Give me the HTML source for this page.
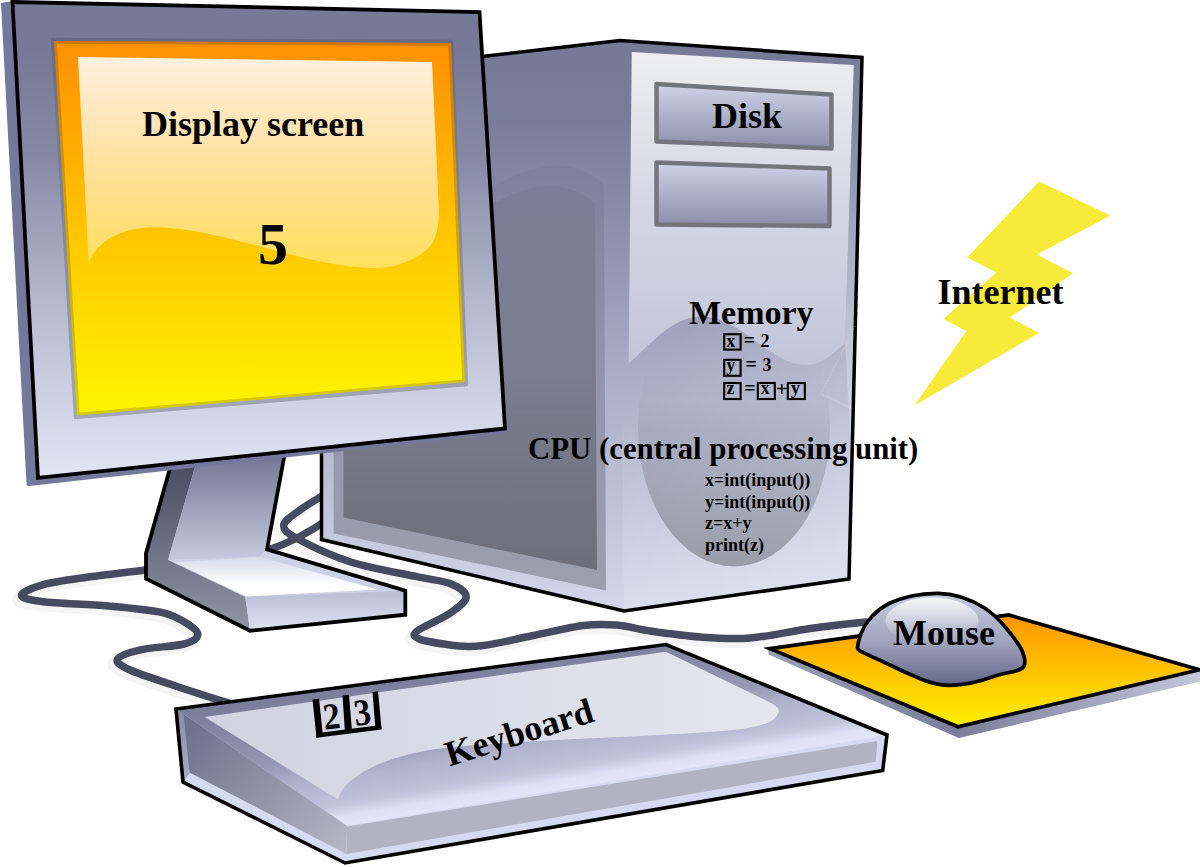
<!DOCTYPE html>
<html lang="en">
<head>
<meta charset="utf-8">
<title>Computer diagram</title>
<style>
html,body{margin:0;padding:0;background:#fff;}
body{width:1200px;height:867px;overflow:hidden;}
svg{display:block;}
text{font-family:"Liberation Serif","DejaVu Serif",serif;font-weight:bold;fill:#000;}
</style>
</head>
<body>
<svg width="1200" height="867" viewBox="0 0 1200 867">
<defs>
  <linearGradient id="gMonFace" x1="0" y1="50" x2="0" y2="475" gradientUnits="userSpaceOnUse">
    <stop offset="0" stop-color="#767a96"/><stop offset="0.25" stop-color="#8589a4"/><stop offset="0.6" stop-color="#b6bace"/><stop offset="1" stop-color="#e0e4f3"/>
  </linearGradient>
  <linearGradient id="gBezel" x1="0" y1="38" x2="0" y2="420" gradientUnits="userSpaceOnUse">
    <stop offset="0" stop-color="#666a84"/><stop offset="1" stop-color="#a3a7b6"/>
  </linearGradient>
  <linearGradient id="gScreen" x1="0" y1="41" x2="0" y2="415" gradientUnits="userSpaceOnUse">
    <stop offset="0" stop-color="#ff8f00"/><stop offset="0.5" stop-color="#ffc400"/><stop offset="1" stop-color="#fff500"/>
  </linearGradient>
  <linearGradient id="gGloss" x1="0" y1="57" x2="0" y2="270" gradientUnits="userSpaceOnUse">
    <stop offset="0" stop-color="#fff" stop-opacity="0.88"/><stop offset="1" stop-color="#fff" stop-opacity="0.36"/>
  </linearGradient>
  <linearGradient id="gTowerSide" x1="0" y1="50" x2="0" y2="610" gradientUnits="userSpaceOnUse">
    <stop offset="0" stop-color="#767a96"/><stop offset="0.12" stop-color="#787c98"/><stop offset="0.36" stop-color="#9094ae"/><stop offset="0.62" stop-color="#aeb2ca"/><stop offset="0.8" stop-color="#bec2d8"/><stop offset="0.9" stop-color="#c8ccdf"/><stop offset="1" stop-color="#d2d6e8"/>
  </linearGradient>
  <linearGradient id="gBevelR" x1="0" y1="60" x2="0" y2="420" gradientUnits="userSpaceOnUse">
    <stop offset="0" stop-color="#fff" stop-opacity="0.03"/><stop offset="1" stop-color="#fff" stop-opacity="0.28"/>
  </linearGradient>
  <linearGradient id="gFrontLite" x1="622" y1="400" x2="850" y2="610" gradientUnits="userSpaceOnUse">
    <stop offset="0" stop-color="#fff" stop-opacity="0"/><stop offset="1" stop-color="#fff" stop-opacity="0.36"/>
  </linearGradient>
  <linearGradient id="gTowerFront" x1="0" y1="40" x2="0" y2="610" gradientUnits="userSpaceOnUse">
    <stop offset="0" stop-color="#7a7e9a"/><stop offset="0.5" stop-color="#a8acc6"/><stop offset="1" stop-color="#e0e4f3"/>
  </linearGradient>
  <linearGradient id="gPanel" x1="0" y1="52" x2="0" y2="365" gradientUnits="userSpaceOnUse">
    <stop offset="0" stop-color="#eeeef1"/><stop offset="0.5" stop-color="#d3d6e2"/><stop offset="1" stop-color="#c2c6da"/>
  </linearGradient>
  <linearGradient id="gShade1" x1="0" y1="165" x2="0" y2="590" gradientUnits="userSpaceOnUse">
    <stop offset="0" stop-color="#000" stop-opacity="0.03"/><stop offset="1" stop-color="#000" stop-opacity="0.25"/>
  </linearGradient>
  <linearGradient id="gShade2" x1="0" y1="186" x2="0" y2="570" gradientUnits="userSpaceOnUse">
    <stop offset="0" stop-color="#000" stop-opacity="0.04"/><stop offset="1" stop-color="#000" stop-opacity="0.30"/>
  </linearGradient>
  <linearGradient id="gEll" x1="0" y1="365" x2="0" y2="567" gradientUnits="userSpaceOnUse">
    <stop offset="0" stop-color="#000" stop-opacity="0"/><stop offset="0.173" stop-color="#000" stop-opacity="0.025"/><stop offset="0.32" stop-color="#000" stop-opacity="0.085"/><stop offset="0.57" stop-color="#000" stop-opacity="0.15"/><stop offset="1" stop-color="#000" stop-opacity="0.28"/>
  </linearGradient>
  <linearGradient id="gBay" x1="0" y1="0" x2="0" y2="1">
    <stop offset="0" stop-color="#cfd3e8"/><stop offset="1" stop-color="#8a8ea8"/>
  </linearGradient>
  <linearGradient id="gStandSide" x1="0" y1="470" x2="0" y2="630" gradientUnits="userSpaceOnUse">
    <stop offset="0" stop-color="#4c5066"/><stop offset="1" stop-color="#9094a4"/>
  </linearGradient>
  <linearGradient id="gStandUp" x1="0" y1="460" x2="0" y2="560" gradientUnits="userSpaceOnUse">
    <stop offset="0" stop-color="#767a96"/><stop offset="1" stop-color="#c6cade"/>
  </linearGradient>
  <linearGradient id="gStandTop" x1="0" y1="556" x2="0" y2="598" gradientUnits="userSpaceOnUse">
    <stop offset="0" stop-color="#d6daea"/><stop offset="0.7" stop-color="#ffffff"/>
  </linearGradient>
  <linearGradient id="gStandFront" x1="0" y1="595" x2="0" y2="630" gradientUnits="userSpaceOnUse">
    <stop offset="0" stop-color="#bcc0d6"/><stop offset="1" stop-color="#dfe3f3"/>
  </linearGradient>
  <linearGradient id="gKbSide" x1="185" y1="716" x2="347" y2="845" gradientUnits="userSpaceOnUse">
    <stop offset="0" stop-color="#6a6e8a"/><stop offset="0.5" stop-color="#8e92a6"/><stop offset="1" stop-color="#b2b6c4"/>
  </linearGradient>
  <linearGradient id="gKbTop" x1="345" y1="824" x2="322" y2="686" gradientUnits="userSpaceOnUse">
    <stop offset="0" stop-color="#e1e5f7"/><stop offset="0.057" stop-color="#dde1f4"/><stop offset="0.13" stop-color="#c4c8de"/><stop offset="0.19" stop-color="#babed6"/><stop offset="0.33" stop-color="#b0b4cc"/><stop offset="0.5" stop-color="#9498b2"/><stop offset="0.95" stop-color="#7a7e9a"/>
  </linearGradient>
  <linearGradient id="gKbRim" x1="0" y1="710" x2="0" y2="782" gradientUnits="userSpaceOnUse">
    <stop offset="0" stop-color="#868aa6"/><stop offset="1" stop-color="#a8acc4"/>
  </linearGradient>
  <linearGradient id="gKbPanel" x1="200" y1="0" x2="770" y2="0" gradientUnits="userSpaceOnUse">
    <stop offset="0" stop-color="#d0d3e0"/><stop offset="1" stop-color="#e4e6ee"/>
  </linearGradient>
  <linearGradient id="gPad" x1="0" y1="615" x2="0" y2="727" gradientUnits="userSpaceOnUse">
    <stop offset="0" stop-color="#ff9600"/><stop offset="1" stop-color="#fff000"/>
  </linearGradient>
  <linearGradient id="gMouse" x1="0" y1="593" x2="0" y2="686" gradientUnits="userSpaceOnUse">
    <stop offset="0" stop-color="#c8ccde"/><stop offset="0.5" stop-color="#a2a6be"/><stop offset="1" stop-color="#62668a"/>
  </linearGradient>
  <linearGradient id="gMouseHi" x1="0" y1="597" x2="0" y2="644" gradientUnits="userSpaceOnUse">
    <stop offset="0" stop-color="#fff" stop-opacity="0.85"/><stop offset="0.75" stop-color="#fff" stop-opacity="0.12"/><stop offset="1" stop-color="#fff" stop-opacity="0.05"/>
  </linearGradient>
  <linearGradient id="gPadSide" x1="766" y1="0" x2="1200" y2="0" gradientUnits="userSpaceOnUse">
    <stop offset="0" stop-color="#9a9eb6"/><stop offset="0.44" stop-color="#7a7e98"/><stop offset="1" stop-color="#c2c6da"/>
  </linearGradient>
  <clipPath id="cScreen"><path d="M54,41 L451,43 L465,382 L77,415.5 Z"/></clipPath>
  <clipPath id="cFront"><path d="M620,40.5 L862,57.5 L849,579 L624,611 Z"/></clipPath>
</defs>
<rect width="1200" height="867" fill="#fff"/>
<g fill="none" stroke-linecap="round" stroke-linejoin="round">
  <g stroke="#000" stroke-opacity="0.045" stroke-width="11" transform="translate(-4,4)">
    <path d="M150.0,569.5 C139.4,570.8 104.5,574.8 86.7,577.3 C68.9,579.8 54.2,581.6 43.3,584.6 C32.4,587.6 21.5,592.4 21.5,595.3 C21.5,598.2 28.8,600.0 43.3,601.8 C57.8,603.6 88.4,604.2 108.3,606.0 C128.2,607.8 149.1,609.5 162.5,612.6 C175.9,615.7 182.6,620.7 188.5,624.5 C194.4,628.3 198.5,632.0 197.8,635.3 C197.1,638.5 193.7,641.6 184.2,644.0 C174.7,646.4 151.9,647.3 140.8,649.8 C129.7,652.3 119.3,655.8 117.5,659.2 C115.7,662.6 120.7,665.7 130.0,670.0 C139.3,674.3 158.9,680.3 173.3,685.2 C187.8,690.1 205.6,695.8 216.7,699.3 C227.8,702.8 236.1,704.9 240.0,706.0"/>
    <path d="M335.0,489.0 C332.7,490.3 326.8,493.2 321.0,496.7 C315.2,500.2 306.2,505.3 300.0,510.0 C293.8,514.7 284.4,520.3 283.8,525.0 C283.2,529.7 285.7,532.2 296.7,538.3 C307.7,544.4 330.0,555.3 350.0,561.7 C370.0,568.1 400.0,573.1 416.7,576.7 C433.4,580.4 441.8,580.3 450.0,583.6 C458.2,586.9 466.2,591.8 466.2,596.7 C466.2,601.7 458.7,606.9 450.0,613.3 C441.3,619.7 414.0,629.7 414.0,635.0 C414.0,640.3 438.4,643.2 450.0,645.0 C461.6,646.8 469.4,647.1 483.3,645.5 C497.2,643.9 516.6,638.8 533.3,635.5 C550.0,632.2 569.4,627.2 583.3,625.5 C597.2,623.8 605.6,624.1 616.7,625.0 C627.8,625.9 636.1,629.0 650.0,631.0 C663.9,633.0 683.3,635.8 700.0,637.0 C716.7,638.2 731.7,639.4 750.0,638.0 C768.3,636.6 790.7,631.2 810.0,628.5 C829.3,625.8 856.7,623.1 866.0,622.0"/>
  </g>
  <g stroke="#474b60" stroke-width="7.5">
    <path d="M150.0,569.5 C139.4,570.8 104.5,574.8 86.7,577.3 C68.9,579.8 54.2,581.6 43.3,584.6 C32.4,587.6 21.5,592.4 21.5,595.3 C21.5,598.2 28.8,600.0 43.3,601.8 C57.8,603.6 88.4,604.2 108.3,606.0 C128.2,607.8 149.1,609.5 162.5,612.6 C175.9,615.7 182.6,620.7 188.5,624.5 C194.4,628.3 198.5,632.0 197.8,635.3 C197.1,638.5 193.7,641.6 184.2,644.0 C174.7,646.4 151.9,647.3 140.8,649.8 C129.7,652.3 119.3,655.8 117.5,659.2 C115.7,662.6 120.7,665.7 130.0,670.0 C139.3,674.3 158.9,680.3 173.3,685.2 C187.8,690.1 205.6,695.8 216.7,699.3 C227.8,702.8 236.1,704.9 240.0,706.0"/>
    <path d="M268,550 C290,543 310,532 330,518"/>
    <path d="M335.0,489.0 C332.7,490.3 326.8,493.2 321.0,496.7 C315.2,500.2 306.2,505.3 300.0,510.0 C293.8,514.7 284.4,520.3 283.8,525.0 C283.2,529.7 285.7,532.2 296.7,538.3 C307.7,544.4 330.0,555.3 350.0,561.7 C370.0,568.1 400.0,573.1 416.7,576.7 C433.4,580.4 441.8,580.3 450.0,583.6 C458.2,586.9 466.2,591.8 466.2,596.7 C466.2,601.7 458.7,606.9 450.0,613.3 C441.3,619.7 414.0,629.7 414.0,635.0 C414.0,640.3 438.4,643.2 450.0,645.0 C461.6,646.8 469.4,647.1 483.3,645.5 C497.2,643.9 516.6,638.8 533.3,635.5 C550.0,632.2 569.4,627.2 583.3,625.5 C597.2,623.8 605.6,624.1 616.7,625.0 C627.8,625.9 636.1,629.0 650.0,631.0 C663.9,633.0 683.3,635.8 700.0,637.0 C716.7,638.2 731.7,639.4 750.0,638.0 C768.3,636.6 790.7,631.2 810.0,628.5 C829.3,625.8 856.7,623.1 866.0,622.0"/>
  </g>
</g>
<g stroke-linejoin="miter">
  <path d="M321.5,75 L620,40.5 L862,57.5 L849,579 L624,611 L321.5,539.5 Z" fill="url(#gTowerSide)"/>
  <path d="M333.6,533.4 L606,590.4 L603.8,184.5 C590,170 572,165.5 557,165.7 C535,166 512,175 494.7,186 L333.6,200 Z" fill="url(#gShade1)"/>
  <path d="M343.5,517.5 L597,570 L594.8,203 C580,191 565,186 549.5,186 C530,186 512,194 495,203 L343.5,215 Z" fill="url(#gShade2)"/>
    <path d="M620,40.5 L862,57.5 L849,579 L624,611 Z" fill="url(#gFrontLite)"/>
  <path d="M853.75,65 L862,57.5 L852,460 L845,343 Z" fill="url(#gBevelR)"/>
  <ellipse cx="734" cy="428" rx="96" ry="138.5" fill="url(#gEll)" clip-path="url(#cFront)"/>
  <path d="M631.75,52 L853.75,65 L845,343 C835,352 822,366 803,365 C770,363 740,316 700,316.5 C672,317 650,345 628.6,363.5 Z" fill="url(#gPanel)"/>
  <path d="M321.5,75 L620,40.5 L862,57.5 L849,579 L624,611 L321.5,539.5 Z" fill="none" stroke="#000" stroke-width="3.5"/>
  <path d="M855,326 L821,394 L853,409" fill="none" stroke="#fff" stroke-opacity="0.45" stroke-width="0.7" stroke-dasharray="1.5 1.5"/>
  <g stroke="#73757d" stroke-width="4.4" stroke-linejoin="round" fill="url(#gBay)">
    <path d="M656.5,84 L831.5,94.5 L831.5,148.5 L656.5,141.5 Z"/>
    <path d="M656.5,162.5 L829.5,168.5 L829.5,226 L656.5,224.5 Z"/>
  </g>
</g>
<g stroke-linejoin="miter">
  <path d="M172.7,458.7 L146,553.3 L146,578.7 L250,630.7 L405.3,614.7 L405.3,590.7 L267,549.3 L286.2,446 Z" fill="#cdd1e4"/>
  <path d="M172.7,458.7 L198.2,456 L168,560 L245.3,597 L250,630.7 L146,578.7 L146,553.3 Z" fill="url(#gStandSide)"/>
  <path d="M198.2,456 L286.2,446 L267,549.3 L259,556.5 L168,560 Z" fill="url(#gStandUp)"/>
  <path d="M174.5,562.3 L260,557 L377.5,589.5 L246.5,596.5 Z" fill="url(#gStandTop)"/>
  <path d="M245.3,597 L405.3,590.7 L405.3,614.7 L250,630.7 Z" fill="url(#gStandFront)"/>
  <path d="M172.7,458.7 L146,553.3 L146,578.7 L250,630.7 L405.3,614.7 L405.3,590.7 L267,549.3 L286.2,446" fill="none" stroke="#000" stroke-width="3.8"/>
</g>
<g>
  <path d="M1,3 L12,1 L38,478 L506,428 L507.5,433 L29,486 Q26.5,486 26.5,483.5 Z" fill="#74789a"/>
  <path d="M12.5,2 L479.5,12 L505,428.5 L38,478 Z" fill="url(#gMonFace)" stroke="#000" stroke-width="3.8" stroke-linejoin="miter"/>
  <path d="M52.5,39.5 L451.5,41.5 L466.5,384.5 L75.5,417.5 Z" fill="url(#gBezel)" stroke="url(#gBezel)" stroke-width="3.4" stroke-linejoin="round"/>
  <path d="M54,41 L451,43 L465,382 L77,415.5 Z" fill="url(#gScreen)"/>
  <path d="M54,41 L451,43 L465,382 L77,415.5 Z" fill="none" stroke="#000" stroke-opacity="0.17" stroke-width="5.5" clip-path="url(#cScreen)"/>
  <path d="M78,57 L432,62 L438.7,205 C440,232 434,245 424,252 C408,264 388,269 368,268 C330,266 300,257 235,240 C200,231 170,226 147,227.5 C115,230 97,244 88.7,262 Z" fill="url(#gGloss)"/>
</g>
<g stroke-linejoin="miter">
  <path d="M176,709 L666,644.5 L887,735 L882.7,770.4 L345,863 L183,782 Z" fill="#d4daf0"/>
  <path d="M176,709 L184,714 L190,773 L183,782 Z" fill="url(#gKbRim)"/>
  <path d="M177,709.5 L666,644.5 L887,735 L347,825.8 L183.5,714 Z" fill="url(#gKbTop)"/>
  <path d="M183.5,714 L347,825.8 L346.4,854 L189.5,772.5 Z" fill="url(#gKbSide)"/>
  <path d="M347,826.6 L877.3,741 L875.8,761.7 L346.4,854 Z" fill="#b0b4c2"/>
  <path d="M204.5,717 L666,651.7 L768,701.5 C776,705.5 780,709 778.5,712.5 C776,719 770,722.5 761,725 C745,729.5 725,731 705,732.3 C680,734 660,735 640,736 C600,738 570,739 540,741 C490,744 450,746.5 427,750.5 C385,758 345,775 338,799.5 Z" fill="url(#gKbPanel)"/>
  <path d="M176,709 L666,644.5 L887,735 L882.7,770.4 L345,863 L183,782 Z" fill="none" stroke="#000" stroke-width="3.6"/>
  <g fill="#000">
    <path d="M312.5,699.5 L319,698.7 L323,736.5 L316.5,737.5 Z"/>
    <path d="M342.5,695.5 L349,694.7 L352,731.5 L345,732.5 Z"/>
    <path d="M372.5,692 L378,691.3 L381.5,729 L375.5,729.8 Z"/>
    <path d="M316.2,733.2 L381,725 L381.5,729.6 L316.5,737.7 Z"/>
  </g>
</g>
<g stroke-linejoin="miter">
  <path d="M768,648 L768.5,654.5 L958.8,738 L1200,681.5 L1200,668 L958,726 Z" fill="url(#gPadSide)"/>
  <path d="M770,648.6 L1008.7,615 L1199.5,669.8 L958,726.7 Z" fill="url(#gPad)" stroke="#000" stroke-width="3.7"/>
  <path d="M857.5,647 C860,628 872,612 890,603 C905,596 920,593.5 936.7,593.3 C955,593 972,600 985,608.3 C998,617 1012,634 1020,646.7 C1024,653 1026,662 1024,666 C1022,671 1010,672 998.3,675 C988,678 982,681 973.3,682.5 C965,684 957,685.5 948.3,685.3 C940,685 931,683 923.3,680 C911,675 900,670 890,665 C880,660 872,657 865,653.3 C860,651 857,649.5 857.5,647 Z" fill="url(#gMouse)" stroke="#000" stroke-width="3.7"/>
  <ellipse cx="932" cy="621" rx="46.5" ry="23.5" fill="url(#gMouseHi)"/>
</g>
<path d="M1039,181.6 L1110.3,215.5 L1036.9,254.4 L1072.9,273.3 L1009.9,317.4 L1039,333 L914.6,405.2 L966.4,330.9 L943.4,318.9 L996.4,272.4 L967.3,257.4 Z" fill="#f7ea38"/>
<g>
  <text x="142" y="136" font-size="36">Display screen</text>
  <text x="258" y="264" font-size="60">5</text>
  <text x="712" y="127.5" font-size="36">Disk</text>
  <text x="689" y="323.5" font-size="34">Memory</text>
  <text x="937.5" y="303.5" font-size="36">Internet</text>
  <text x="528" y="459" font-size="30.8">CPU (central processing unit)</text>
  <g font-size="18">
    <text x="705" y="486">x=int(input())</text>
    <text x="705" y="507.5">y=int(input())</text>
    <text x="705" y="529">z=x+y</text>
    <text x="705" y="550.5">print(z)</text>
  </g>
  <g font-size="18">
    <text x="726.3" y="346.5">x</text><text x="743.7" y="347" font-size="20">=</text><text x="760.6" y="346.5">2</text>
    <text x="726.3" y="370.5">y</text><text x="745.5" y="371" font-size="20">=</text><text x="762.4" y="370.5">3</text>
    <text x="726.5" y="394.3">z</text><text x="744.2" y="394.8" font-size="20">=</text><text x="760.8" y="394.3">x</text><text x="775.7" y="396" font-weight="normal" font-size="21">+</text><text x="791" y="394.3">y</text>
  </g>
  <g fill="none" stroke="#000" stroke-width="2.1">
    <rect x="724.2" y="334.2" width="16.4" height="15.4"/>
    <rect x="724.2" y="359.8" width="16.4" height="16"/>
    <rect x="724.2" y="383" width="16.4" height="16"/>
    <rect x="757.8" y="383" width="17" height="16"/>
    <rect x="787.8" y="383" width="17" height="16"/>
  </g>
  <text x="893" y="645" font-size="36">Mouse</text>
  <text transform="translate(449.5,766.5) rotate(-17.3)" font-size="35.8">Keyboard</text>
  <text transform="matrix(0.985,-0.12,0.12,1.09,324.5,729.7)" font-size="34">2</text>
  <text transform="matrix(0.985,-0.12,0.14,1.09,355.5,725.7)" font-size="34">3</text>
</g>
</svg>
</body>
</html>
